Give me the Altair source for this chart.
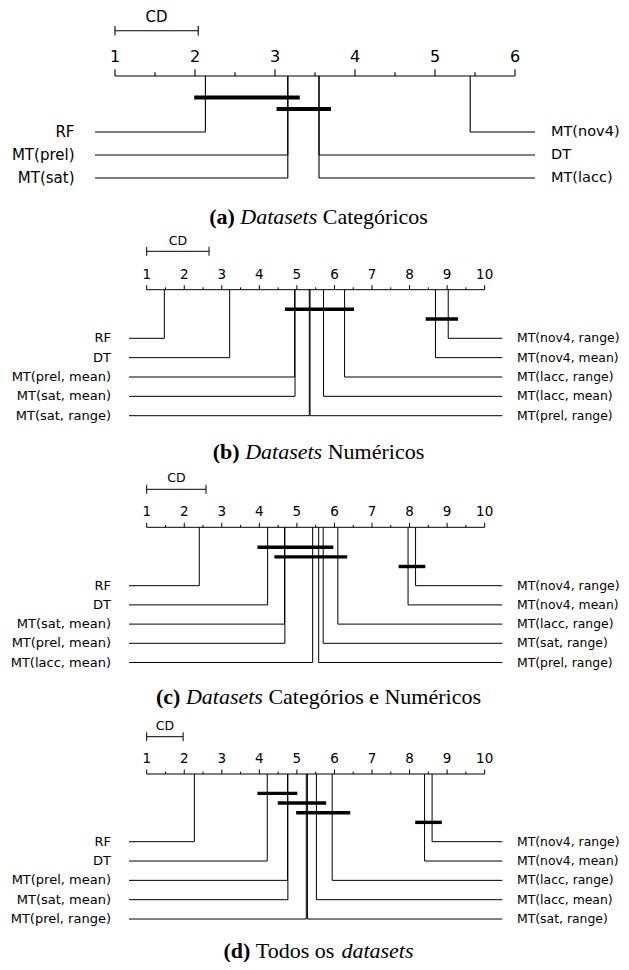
import altair as alt
import pandas as pd
import numpy as np

# ---------------- data (average ranks) ----------------
names_a = ["RF", "MT(prel)", "MT(sat)", "MT(lacc)", "DT", "MT(nov4)"]
ranks_a = [2.13, 3.16, 3.16, 3.55, 3.55, 5.44]
cd_a = 1.04
cliques_a = [(1.99, 3.31), (3.02, 3.70)]

names_b = ["RF", "DT", "MT(prel, mean)", "MT(sat, mean)", "MT(sat, range)",
           "MT(prel, range)", "MT(lacc, mean)", "MT(lacc, range)", "MT(nov4, mean)", "MT(nov4, range)"]
ranks_b = [1.47, 3.21, 4.94, 4.95, 5.33, 5.35, 5.71, 6.27, 8.69, 9.03]
cd_b = 1.66
cliques_b = [(4.68, 6.52), (8.43, 9.29)]

names_c = ["RF", "DT", "MT(sat, mean)", "MT(prel, mean)", "MT(lacc, mean)",
           "MT(prel, range)", "MT(sat, range)", "MT(lacc, range)", "MT(nov4, mean)", "MT(nov4, range)"]
ranks_c = [2.40, 4.22, 4.67, 4.68, 5.42, 5.58, 5.70, 6.09, 7.96, 8.16]
cd_c = 1.58
cliques_c = [(3.95, 5.97), (4.40, 6.34), (7.71, 8.42)]

names_d = ["RF", "DT", "MT(prel, mean)", "MT(sat, mean)", "MT(prel, range)",
           "MT(sat, range)", "MT(lacc, mean)", "MT(lacc, range)", "MT(nov4, mean)", "MT(nov4, range)"]
ranks_d = [2.27, 4.21, 4.75, 4.76, 5.25, 5.28, 5.52, 5.94, 8.40, 8.60]
cd_d = 0.97
cliques_d = [(3.95, 5.01), (4.49, 5.78), (4.98, 6.42), (8.15, 8.86)]

ticks_a = [1, 2, 3, 4, 5, 6]
ticks_bcd = [1, 2, 3, 4, 5, 6, 7, 8, 9, 10]

caption_a = [("(a)", "bold"), ("Datasets", "italic"), ("Categóricos", "normal")]
caption_b = [("(b)", "bold"), ("Datasets", "italic"), ("Numéricos", "normal")]
caption_c = [("(c)", "bold"), ("Datasets", "italic"), ("Categórios e Numéricos", "normal")]
caption_d = [("(d)", "bold"), ("Todos os", "normal"), ("datasets", "italic")]

# ---------------- layout (page pixel coordinates) ----------------
W = 613
layouts = [
    dict(top=8, bottom=231, x1=115, unit=80, row0=132, sp=23, axis=76,
         major=6.7, minor=3.7, tick_text=61.7, cd_y=30.7, cd_cap=4.7, cd_text=21.7, cap_y=217,
         lstart=95, lend=74.5, rend=535, rstart=551,
         fs_name=15, fs_rname=14.5, fs_tick=16, fs_cd=15, clique_w=4.2, lw=1.1),
    dict(top=231, bottom=467, x1=146.7, unit=37.55, row0=338.3, sp=19.35, axis=289.7,
         major=4.5, minor=2.4, tick_text=278.7, cd_y=251.3, cd_cap=4.5, cd_text=244.7, cap_y=452,
         lstart=129, lend=111, rend=502.3, rstart=517,
         fs_name=13, fs_rname=12.4, fs_tick=13.5, fs_cd=12.5, clique_w=3.4, lw=1.0),
    dict(top=467, bottom=713, x1=146.7, unit=37.55, row0=585.7, sp=19.2, axis=527.3,
         major=4.5, minor=2.4, tick_text=516.4, cd_y=489.3, cd_cap=4.5, cd_text=481.6, cap_y=697,
         lstart=129, lend=111, rend=502.3, rstart=517,
         fs_name=13, fs_rname=12.4, fs_tick=13.5, fs_cd=12.5, clique_w=3.4, lw=1.0),
    dict(top=713, bottom=962, x1=146.7, unit=37.55, row0=841.7, sp=19.33, axis=774,
         major=4.5, minor=2.4, tick_text=763, cd_y=736.7, cd_cap=4.5, cd_text=730, cap_y=950.5,
         lstart=129, lend=111, rend=502.3, rstart=517,
         fs_name=13, fs_rname=12.4, fs_tick=13.5, fs_cd=12.5, clique_w=3.4, lw=1.0),
]

CAP_FONT = "Liberation Serif"
CAP_SIZE = 22
CAP_CENTER = 318.5  # page x
TIMES = {' ': 250, '(': 333, ')': 333, 'a': 444, 'b': 500, 'c': 444, 'd': 500, 'e': 444,
         'g': 500, 'i': 278, 'm': 778, 'n': 500, 'o': 500, 'r': 333, 's': 389, 't': 278,
         'u': 500, 'ó': 500, 'é': 444, 'C': 667, 'D': 722, 'N': 722, 'T': 611}
TIMES_B = dict(TIMES, **{'a': 500, 'b': 556, 'c': 444, 'd': 556})
TIMES_I = dict(TIMES, **{'a': 500, 'd': 500})


def text_width(s, style):
    table = TIMES_B if style == "bold" else (TIMES_I if style == "italic" else TIMES)
    return sum(table.get(ch, 500) for ch in s) / 1000 * CAP_SIZE


def make_panel(names, ranks, cd, cliques, ticks, cap_parts, L):
    H = L['bottom'] - L['top']

    def rank_at(px):
        return 1 + (px - L['x1']) / L['unit']

    def py(page_y):
        return page_y - L['top']

    xs = alt.Scale(domain=[rank_at(8), rank_at(8 + W)], nice=False, zero=False)
    ys = alt.Scale(domain=[(L['top'] - L['row0']) / L['sp'], (L['bottom'] - L['row0']) / L['sp']],
                   nice=False, zero=False, reverse=True)

    def X(f):
        return alt.X(f, type='quantitative', scale=xs, axis=None)

    def Y(f):
        return alt.Y(f, type='quantitative', scale=ys, axis=None)

    h = len(names) // 2
    axis_lvl = (L['axis'] - L['row0']) / L['sp']
    rows = []
    for i, (n, r) in enumerate(zip(names[:h], ranks[:h])):
        rows.append(dict(name=n, rank=r, row=i, top=axis_lvl,
                         edge=rank_at(L['lstart']), lab=rank_at(L['lend']), side='L'))
    right = list(zip(names[h:], ranks[h:]))[::-1]
    for i, (n, r) in enumerate(right):
        rows.append(dict(name=n, rank=r, row=i, top=axis_lvl,
                         edge=rank_at(L['rend']), lab=rank_at(L['rstart']), side='R'))
    df = pd.DataFrame(rows)
    lw = L['lw']
    ay = py(L['axis'])

    # axis: line, major ticks with labels, minor ticks at halves
    axis_df = pd.DataFrame({'a': [ticks[0]], 'b': [ticks[-1]]})
    axis_line = alt.Chart(axis_df).mark_rule(color='black', strokeWidth=lw).encode(
        x=X('a'), x2=alt.X2('b'), y=alt.value(ay))
    maj_df = pd.DataFrame({'v': ticks, 't': [str(t) for t in ticks]})
    maj_ticks = alt.Chart(maj_df).mark_rule(color='black', strokeWidth=lw).encode(
        x=X('v'), y=alt.value(ay), y2=alt.value(ay - L['major']))
    maj_text = alt.Chart(maj_df).mark_text(
        font='DejaVu Sans', fontSize=L['fs_tick'], color='black', align='center',
        baseline='alphabetic').encode(x=X('v'), y=alt.value(py(L['tick_text'])), text='t:N')
    halves = pd.DataFrame({'v': [t + 0.5 for t in ticks[:-1]]})
    minor_ticks = alt.Chart(halves).mark_rule(color='black', strokeWidth=lw).encode(
        x=X('v'), y=alt.value(ay), y2=alt.value(ay - L['minor']))

    # CD bar
    cd_df = pd.DataFrame({'a': [1.0], 'b': [1.0 + cd], 'm': [1.0 + cd / 2], 't': ['CD']})
    cd_bar = alt.Chart(cd_df).mark_rule(color='black', strokeWidth=lw).encode(
        x=X('a'), x2=alt.X2('b'), y=alt.value(py(L['cd_y'])))
    cd_caps_df = pd.DataFrame({'v': [1.0, 1.0 + cd]})
    cd_caps = alt.Chart(cd_caps_df).mark_rule(color='black', strokeWidth=lw).encode(
        x=X('v'), y=alt.value(py(L['cd_y']) - L['cd_cap']), y2=alt.value(py(L['cd_y']) + L['cd_cap']))
    cd_text = alt.Chart(cd_df).mark_text(font='DejaVu Sans', fontSize=L['fs_cd'], color='black',
                                         align='center', baseline='alphabetic').encode(
        x=X('m'), y=alt.value(py(L['cd_text'])), text='t:N')

    # vertical and horizontal connectors
    verts = alt.Chart(df).mark_rule(color='black', strokeWidth=lw).encode(
        x=X('rank'), y=Y('top'), y2=alt.Y2('row'))
    hors = alt.Chart(df).mark_rule(color='black', strokeWidth=lw).encode(
        x=X('rank'), x2=alt.X2('edge'), y=Y('row'))
    left_txt = alt.Chart(df[df.side == 'L']).mark_text(
        font='DejaVu Sans', fontSize=L['fs_name'], color='black', align='right', baseline='middle'
    ).encode(x=X('lab'), y=Y('row'), text='name:N')
    right_txt = alt.Chart(df[df.side == 'R']).mark_text(
        font='DejaVu Sans', fontSize=L['fs_rname'], color='black', align='left', baseline='middle'
    ).encode(x=X('lab'), y=Y('row'), text='name:N')

    # cliques
    nb = len(cliques)
    cl_df = pd.DataFrame({'lo': [c[0] for c in cliques], 'hi': [c[1] for c in cliques],
                          'lvl': [-(1 + 0.5 * (nb - 1 - k)) for k in range(nb)]})
    cl_layer = alt.Chart(cl_df).mark_rule(color='black', strokeWidth=L['clique_w']).encode(
        x=X('lo'), x2=alt.X2('hi'), y=Y('lvl'))

    # caption (mixed styles)
    space = TIMES[' '] / 1000 * CAP_SIZE
    widths = [text_width(s, st) for s, st in cap_parts]
    total = sum(widths) + space * (len(cap_parts) - 1)
    xpos = CAP_CENTER - 8 - total / 2
    cap_layers = []
    for (s, st), w in zip(cap_parts, widths):
        kw = {}
        if st == 'bold':
            kw['fontWeight'] = 'bold'
        if st == 'italic':
            kw['fontStyle'] = 'italic'
        cap_layers.append(
            alt.Chart(pd.DataFrame({'t': [s]})).mark_text(
                font=CAP_FONT, fontSize=CAP_SIZE, color='black', align='left',
                baseline='middle', **kw
            ).encode(x=alt.value(xpos), y=alt.value(py(L['cap_y'])), text='t:N'))
        xpos += w + space

    return alt.layer(axis_line, maj_ticks, maj_text, minor_ticks, cd_bar, cd_caps, cd_text,
                     verts, hors, left_txt, right_txt, cl_layer, *cap_layers
                     ).properties(width=W, height=H)


panels = [
    make_panel(names_a, ranks_a, cd_a, cliques_a, ticks_a, caption_a, layouts[0]),
    make_panel(names_b, ranks_b, cd_b, cliques_b, ticks_bcd, caption_b, layouts[1]),
    make_panel(names_c, ranks_c, cd_c, cliques_c, ticks_bcd, caption_c, layouts[2]),
    make_panel(names_d, ranks_d, cd_d, cliques_d, ticks_bcd, caption_d, layouts[3]),
]

chart = alt.vconcat(*panels, spacing=0, bounds='flush').properties(
    padding=0
).configure_view(stroke=None)

chart.save("out.html", embed_options={"renderer": "svg", "actions": False})
